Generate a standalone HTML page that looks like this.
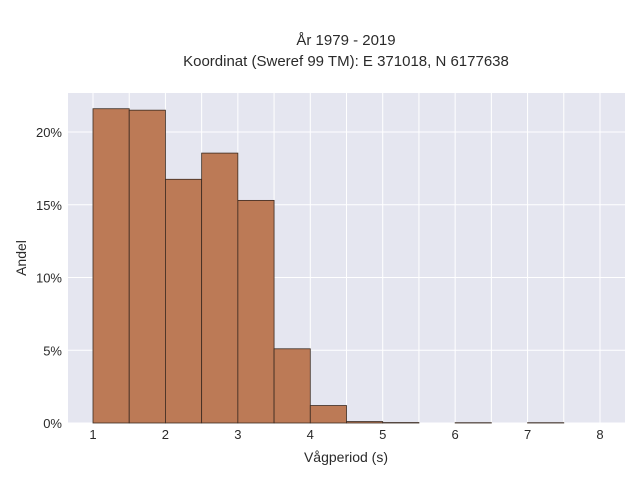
<!DOCTYPE html>
<html><head><meta charset="utf-8"><style>
body{margin:0;background:#fff;}
svg text{font-family:"Liberation Sans",sans-serif;fill:#2a3f5f;}
</style></head><body>
<svg width="640" height="480" xmlns="http://www.w3.org/2000/svg">
<rect x="0" y="0" width="640" height="480" fill="#fff"/>
<rect x="68" y="93" width="557" height="330" fill="#e5e6f0"/>
<g id="grid"></g>
<g id="bars"></g>
<g id="ticks"></g>
<text x="346" y="45" text-anchor="middle" font-size="15" style="fill:#2a2a2a">År 1979 - 2019</text>
<text x="346" y="66" text-anchor="middle" font-size="15" style="fill:#2a2a2a">Koordinat (Sweref 99 TM): E 371018, N 6177638</text>
<text x="346" y="462" text-anchor="middle" font-size="14" style="fill:#2a2a2a">Vågperiod (s)</text>
<text x="26" y="258" text-anchor="middle" font-size="14" transform="rotate(-90 26 258)" style="fill:#2a2a2a">Andel</text>
</svg>
<script>
const binStarts=[1,1.5,2,2.5,3,3.5,4,4.5,5,5.5,6,6.5,7,7.5];
const shares=[21.6,21.5,16.75,18.55,15.3,5.1,1.2,0.1,0.03,0,0.02,0,0.02,0];
const xTicks=[1,2,3,4,5,6,7,8];
const yTicks=[0,5,10,15,20];
const binWidth=0.5;
const NS="http://www.w3.org/2000/svg";
const xs=v=>93+(v-1)*(600-93)/7;
const ys=v=>423-v*(423-132)/20;
const grid=document.getElementById('grid'),bars=document.getElementById('bars'),ticks=document.getElementById('ticks');
function mk(tag,attrs,parent){const e=document.createElementNS(NS,tag);for(const k in attrs)e.setAttribute(k,attrs[k]);parent.appendChild(e);return e;}
for(let v=0.5;v<=8.5;v+=0.5){const x=xs(v);if(x<68||x>625)continue;
const l=mk('line',{x1:x,x2:x,y1:93,y2:423,stroke:'#fff','stroke-width':1},grid);

}
yTicks.forEach(v=>{const l=mk('line',{x1:68,x2:625,y1:ys(v),y2:ys(v),stroke:'#fff','stroke-width':1},grid);


const t=mk('text',{x:62,y:ys(v)+5,'text-anchor':'end','font-size':13,style:'fill:#2a2a2a'},ticks);t.textContent=v+'%';

});
xTicks.forEach(v=>{const t=mk('text',{x:xs(v),y:439,'text-anchor':'middle','font-size':13,style:'fill:#2a2a2a'},ticks);t.textContent=v;

});
binStarts.forEach((b,i)=>{if(shares[i]<=0)return;const x0=xs(b),x1=xs(b+binWidth),y=ys(shares[i]);
const r=mk('rect',{x:x0,y:y,width:x1-x0,height:423-y,fill:'#bc7a56',stroke:'#3a2a20','stroke-width':0.8},bars);

});
</script>
</body></html>
